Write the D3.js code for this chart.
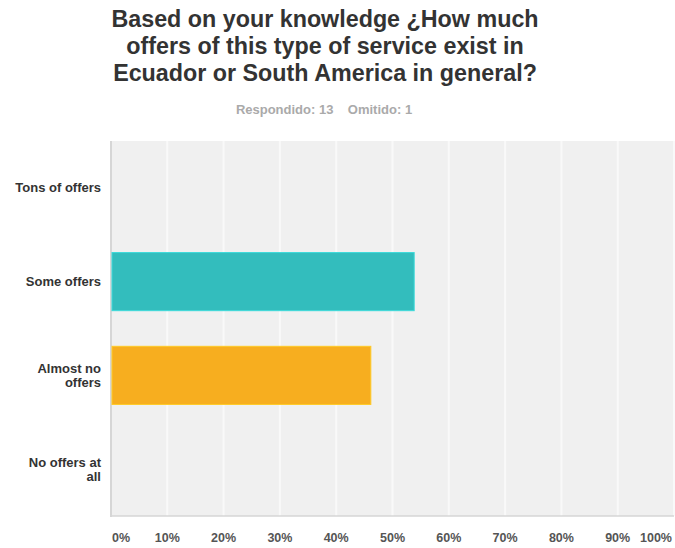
<!DOCTYPE html>
<html><head><meta charset="utf-8">
<script src="https://cdn.jsdelivr.net/npm/d3@7"></script>
<style>body{margin:0;background:#fff;} text{font-family:"Liberation Sans",Arial,sans-serif;}</style>
</head><body>
<svg id="c" width="675" height="548"></svg>
<script>
const titleLines = ["Based on your knowledge ¿How much", "offers of this type of service exist in", "Ecuador or South America in general?"];
const subtitle = "Respondido: 13    Omitido: 1";
const categories = ["Tons of offers", "Some offers", "Almost no offers", "No offers at all"];
const categoryLines = [["Tons of offers"], ["Some offers"], ["Almost no", "offers"], ["No offers at", "all"]];
const values = [0, 53.85, 46.15, 0];
const colors = ["#e25e2f", "#33bdbd", "#f7ae1f", "#8dc63f"];
const ticks = [0,10,20,30,40,50,60,70,80,90,100];

const svg = d3.select("#c");
const L = 111, R = 674, T = 141, B = 516;
const x = d3.scaleLinear().domain([0,100]).range([L, R]);
const y = d3.scaleBand().domain(categories).range([T, B]).paddingInner(0.38).paddingOuter(0.19);

svg.selectAll("text.title").data(titleLines).enter().append("text")
  .attr("x", 325).attr("y", (d,i)=>27+i*27).attr("text-anchor","middle")
  .attr("font-size", 23.3).attr("font-weight","bold").attr("fill","#333").text(d=>d);
svg.append("text").attr("x", 324).attr("y", 114).attr("text-anchor","middle")
  .attr("font-size", 13).attr("font-weight","bold").attr("fill","#aaa")
  .attr("xml:space","preserve").style("white-space","pre").text(subtitle);

svg.append("rect").attr("x", L).attr("y", T).attr("width", R-L).attr("height", B-T).attr("fill","#f0f0f0");
svg.selectAll("line.grid").data(ticks.slice(1)).enter().append("line")
  .attr("x1", d=>x(d)).attr("x2", d=>x(d)).attr("y1", T).attr("y2", B)
  .attr("stroke","#f9f9f9").attr("stroke-width",2);
svg.append("line").attr("x1", L).attr("x2", L).attr("y1", T).attr("y2", B+1).attr("stroke","#d6d6d6").attr("stroke-width",2);
svg.append("line").attr("x1", L).attr("x2", R).attr("y1", B).attr("y2", B).attr("stroke","#d6d6d6").attr("stroke-width",1.5);

svg.selectAll("rect.bar").data(categories).enter().append("rect")
  .attr("x", x(0)+1).attr("y", d=>y(d)).attr("height", y.bandwidth())
  .attr("width", (d,i)=>Math.max(0, x(values[i])-x(0)-1))
  .attr("fill", (d,i)=>colors[i]).attr("stroke", (d,i)=>d3.color(colors[i]).brighter(0.4)).attr("stroke-width",1)
  .style("display",(d,i)=>values[i]>0?null:"none");

const lab = svg.selectAll("text.cat").data(categories).enter().append("text")
  .attr("text-anchor","end").attr("font-size",13).attr("font-weight","bold").attr("fill","#333");
lab.each(function(d,i){
  const lines = categoryLines[i];
  const cy = y(d)+y.bandwidth()/2;
  const t = d3.select(this);
  lines.forEach((ln,j)=>{
    t.append("tspan").attr("x",101).attr("y", cy + 4.5 + (j-(lines.length-1)/2)*14).text(ln);
  });
});

svg.selectAll("text.tick").data(ticks).enter().append("text")
  .attr("x", d=> d===0 ? 121 : d===100 ? 656 : x(d))
  .attr("y", 542).attr("text-anchor","middle").attr("font-size",12.5).attr("font-weight","bold").attr("fill","#555")
  .text(d=>d+"%");
</script>
</body></html>
